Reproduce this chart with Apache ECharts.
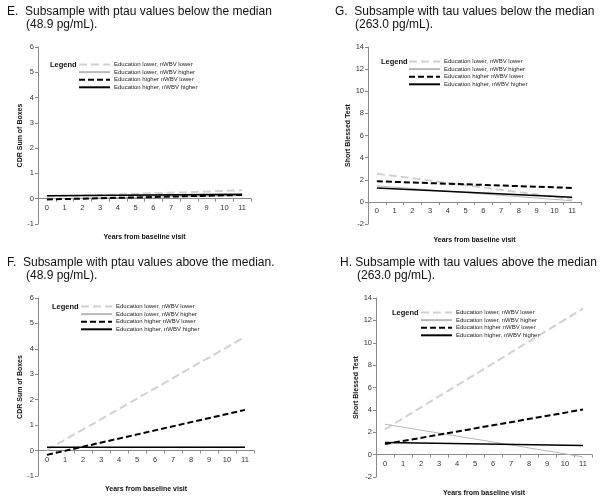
<!DOCTYPE html>
<html><head><meta charset="utf-8">
<script src="https://cdn.jsdelivr.net/npm/echarts@6/dist/echarts.min.js"></script>
<style>html,body{margin:0;padding:0;background:#fff}#c{width:605px;height:498px}</style>
</head><body><div id="c"></div>
<script>
// ---- data ----
const years = ['0','1','2','3','4','5','6','7','8','9','10','11'];
const endYears = [0, 11];
const seriesNames = [
  'Education lower, nWBV lower',
  'Education lower, nWBV higher',
  'Education higher nWBV lower',
  'Education higher, nWBV higher'
];
// Panel E: CDR Sum of Boxes, ptau below median
const eLowLow = [0.08, 0.33];
const eLowHigh = [0.0, 0.12];
const eHighLow = [-0.03, 0.15];
const eHighHigh = [0.12, 0.17];
// Panel F: CDR Sum of Boxes, ptau above median
const fLowLow = [0.02, 4.47];
const fLowHigh = [0.12, 0.14];
const fHighLow = [-0.17, 1.6];
const fHighHigh = [0.13, 0.13];
// Panel G: Short Blessed Test, tau below median
const gLowLow = [2.55, 0.25];
const gLowHigh = [1.45, 0.1];
const gHighLow = [1.86, 1.26];
const gHighHigh = [1.26, 0.42];
// Panel H: Short Blessed Test, tau above median
const hLowLow = [2.27, 13.05];
const hLowHigh = [2.72, -0.2];
const hHighLow = [0.94, 4.03];
const hHighHigh = [1.09, 0.82];
// axis scales
const cdrMin = -1, cdrMax = 6, cdrStep = 1;
const sbtMin = -2, sbtMax = 14, sbtStep = 2;
// titles
const titlesLine1 = [
  'E.  Subsample with ptau values below the median',
  'G.  Subsample with tau values below the median',
  'F.  Subsample with ptau values above the median.',
  'H. Subsample with tau values above the median'
];
const titlesLine2 = ['(48.9 pg/mL).', '(263.0 pg/mL).', '(48.9 pg/mL).', '(263.0 pg/mL).'];
const yNames = ['CDR Sum of Boxes', 'Short Blessed Test', 'CDR Sum of Boxes', 'Short Blessed Test'];
const xName = 'Years from baseline visit';

// ---- layout / style ----
const FONT = 'Arial, "Liberation Sans", sans-serif';
const grids = [
  {left: 38, top: 47, width: 213, height: 177},
  {left: 368, top: 47, width: 213, height: 177},
  {left: 38, top: 298, width: 216, height: 178},
  {left: 376, top: 298, width: 216, height: 179}
];
const titlePos1 = [[7, 6], [335, 6], [7, 257], [340, 257]];
const titlePos2 = [[26, 19], [355, 19], [26, 270], [357, 270]];
const legendWordPos = [[50, 61], [381, 58], [52, 303], [392, 309]];
const legendPos = [[78, 61.5], [408, 58.5], [80, 303.5], [420, 309.5]];
const lineStyles = [
  {color: '#d2d2d2', width: 2, type: [8, 4]},
  {color: '#b8b8b8', width: 1, type: 'solid'},
  {color: '#000000', width: 2, type: [6, 3]},
  {color: '#000000', width: 1.6, type: 'solid'}
];
const panelData = [
  [eLowLow, eLowHigh, eHighLow, eHighHigh],
  [gLowLow, gLowHigh, gHighLow, gHighHigh],
  [fLowLow, fLowHigh, fHighLow, fHighHigh],
  [hLowLow, hLowHigh, hHighLow, hHighHigh]
];
const scales = [
  [cdrMin, cdrMax, cdrStep],
  [sbtMin, sbtMax, sbtStep],
  [cdrMin, cdrMax, cdrStep],
  [sbtMin, sbtMax, sbtStep]
];

const title = [];
const legend = [];
const xAxis = [];
const yAxis = [];
const series = [];
const axisColor = '#8a8a8a';

for (let p = 0; p < 4; p++) {
  const [mn, mx, st] = scales[p];
  // move the category axis up to the value-axis zero line
  const zeroOffset = -grids[p].height * (0 - mn) / (mx - mn);
  title.push({text: titlesLine1[p], left: titlePos1[p][0], top: titlePos1[p][1], padding: 0,
    textStyle: {fontFamily: FONT, fontSize: 12, fontWeight: 'normal', color: '#111'}});
  title.push({text: titlesLine2[p], left: titlePos2[p][0], top: titlePos2[p][1], padding: 0,
    textStyle: {fontFamily: FONT, fontSize: 12, fontWeight: 'normal', color: '#111'}});
  title.push({text: 'Legend', left: legendWordPos[p][0], top: legendWordPos[p][1], padding: 0,
    textStyle: {fontFamily: FONT, fontSize: 7.5, fontWeight: 'bold', color: '#111'}});
  legend.push({
    data: seriesNames, orient: 'vertical', left: legendPos[p][0], top: legendPos[p][1],
    padding: 0, itemWidth: 31, itemHeight: 6, itemGap: 1.6, selectedMode: false,
    itemStyle: {opacity: 0, borderWidth: 0},
    textStyle: {fontFamily: FONT, fontSize: 6, color: '#222', padding: [0, 0, 0, -1]}
  });
  xAxis.push({
    type: 'category', gridIndex: p, data: years, boundaryGap: true,
    position: 'bottom', offset: zeroOffset,
    name: xName, nameLocation: 'middle', nameGap: 35,
    nameTextStyle: {fontFamily: FONT, fontSize: 7, fontWeight: 'bold', color: '#111'},
    axisLine: {onZero: false, lineStyle: {color: axisColor, width: 1}},
    axisTick: {show: true, length: 3, lineStyle: {color: axisColor}},
    axisLabel: {fontFamily: FONT, fontSize: 7.5, color: '#333', margin: 5},
    splitLine: {show: false}
  });
  yAxis.push({
    type: 'value', gridIndex: p, min: mn, max: mx, interval: st,
    name: yNames[p], nameLocation: 'middle', nameGap: 14, nameRotate: 90,
    nameTextStyle: {fontFamily: FONT, fontSize: 7, fontWeight: 'bold', color: '#111'},
    axisLine: {show: true, lineStyle: {color: axisColor, width: 1}},
    axisTick: {show: true, length: 3, lineStyle: {color: axisColor}},
    axisLabel: {fontFamily: FONT, fontSize: 7.5, color: '#333', margin: 4},
    splitLine: {show: false}
  });
  for (let s = 0; s < 4; s++) {
    const vals = panelData[p][s];
    series.push({
      name: seriesNames[s], type: 'line', xAxisIndex: p, yAxisIndex: p,
      data: endYears.map((x, i) => [x, vals[i]]),
      symbol: 'none', showSymbol: false, silent: true, animation: false,
      lineStyle: Object.assign({}, lineStyles[s]),
      itemStyle: {color: lineStyles[s].color},
      z: 2 + s
    });
  }
}

const chart = echarts.init(document.getElementById('c'), null, {renderer: 'canvas'});
chart.setOption({
  animation: false,
  backgroundColor: '#ffffff',
  title, legend,
  grid: grids.map(g => Object.assign({containLabel: false}, g)),
  xAxis, yAxis, series
});
</script>
</body></html>
